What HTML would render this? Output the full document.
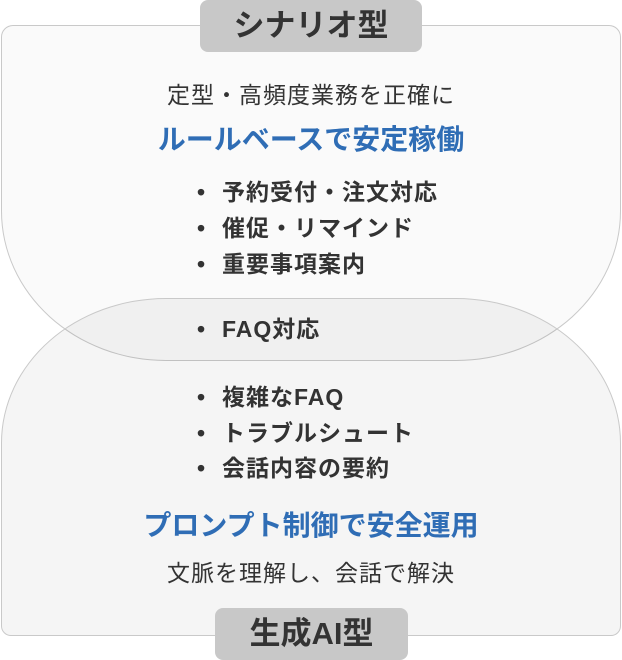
<!DOCTYPE html>
<html><head><meta charset="utf-8"><style>
body{margin:0;width:622px;height:660px;background:#fff;position:relative;overflow:hidden;font-family:"Liberation Sans","Noto Sans CJK JP",sans-serif;color:#333}
.s{position:absolute;box-sizing:border-box;border:1.5px solid #c9c9c9}
#a{left:1px;top:25px;width:620px;height:336px;border-radius:12px 12px 165px 165px/12px 12px 150px 150px;background:rgba(0,0,0,0.02)}
#b{left:1px;top:298px;width:620px;height:338px;border-radius:165px 165px 10px 10px/145px 145px 10px 10px;background:rgba(0,0,0,0.04)}
.t{position:absolute;left:0;width:622px;text-align:center;white-space:nowrap}
.lab{position:absolute;background:#c8c8c8;font-weight:bold;font-size:31px;text-align:center;line-height:52px;color:#333;border-radius:8px}
.b{position:absolute;left:197px;font-size:23px;letter-spacing:1px;font-weight:bold;line-height:24px;white-space:nowrap}
.b:before{content:"•";display:inline-block;width:25px}
.blue{color:#2f6db5;font-weight:bold;font-size:28px}
.sub{font-size:23px;letter-spacing:1px}
</style></head><body>
<div class="s" id="a"></div>
<div class="s" id="b"></div>
<div class="lab" style="left:200px;top:0;width:222px;height:52px">シナリオ型</div>
<div class="lab" style="left:215px;top:608px;width:193px;height:52px">生成AI型</div>
<div class="t sub" style="top:83px;line-height:24px">定型・高頻度業務を正確に</div>
<div class="t blue" style="top:124px;line-height:32px">ルールベースで安定稼働</div>
<div class="b" style="top:180px">予約受付・注文対応</div>
<div class="b" style="top:216px">催促・リマインド</div>
<div class="b" style="top:252px">重要事項案内</div>
<div class="b" style="top:317px">FAQ対応</div>
<div class="b" style="top:385px">複雑なFAQ</div>
<div class="b" style="top:421px">トラブルシュート</div>
<div class="b" style="top:456px">会話内容の要約</div>
<div class="t blue" style="top:510px;line-height:32px">プロンプト制御で安全運用</div>
<div class="t sub" style="top:561px;line-height:24px">文脈を理解し、会話で解決</div>
</body></html>
